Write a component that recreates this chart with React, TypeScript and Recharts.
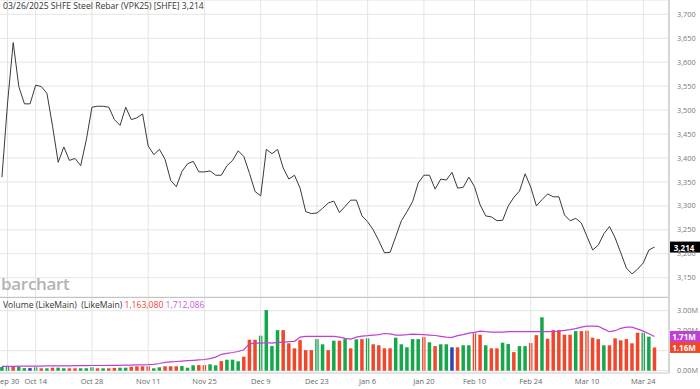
import React from 'react';
import {
  ComposedChart,
  LineChart,
  Line,
  Bar,
  Cell,
  XAxis,
  YAxis,
  CartesianGrid,
  ReferenceLine,
} from 'recharts';

// trading-day index ticks and labels
const tickIndex = [1, 6, 16, 26, 36, 46, 56, 65, 75, 84, 94, 104, 114];
const tickLabels = ['Sep 30', 'Oct 14', 'Oct 28', 'Nov 11', 'Nov 25', 'Dec 9', 'Dec 23', 'Jan 6', 'Jan 20', 'Feb 10', 'Feb 24', 'Mar 10', 'Mar 24'];

const priceTicks = [3150, 3200, 3250, 3300, 3350, 3400, 3450, 3500, 3550, 3600, 3650, 3700];
const volumeTicks = [0, 1, 2, 3];

// daily closes, Sep 27 2024 .. Mar 26 2025
const closes = [
  3360, 3515, 3641, 3549, 3513, 3513, 3552, 3549, 3535, 3466,
  3391, 3423, 3395, 3399, 3384, 3438, 3506, 3508, 3508, 3506,
  3480, 3468, 3506, 3480, 3484, 3492, 3425, 3407, 3418, 3397,
  3353, 3340, 3372, 3388, 3393, 3371, 3371, 3373, 3364, 3364,
  3384, 3395, 3415, 3403, 3368, 3330, 3321, 3418, 3409, 3418,
  3379, 3356, 3364, 3337, 3288, 3284, 3285, 3295, 3306, 3310,
  3286, 3299, 3312, 3312, 3279, 3267, 3250, 3227, 3202, 3203,
  3236, 3269, 3288, 3309, 3348, 3364, 3364, 3335, 3356, 3354,
  3370, 3337, 3339, 3360, 3340, 3302, 3279, 3277, 3269, 3270,
  3300, 3318, 3331, 3367, 3339, 3300, 3313, 3325, 3319, 3319,
  3281, 3269, 3274, 3264, 3236, 3208, 3218, 3242, 3257, 3233,
  3202, 3170, 3158, 3168, 3181, 3208, 3214,
];

// volume in millions
const volumes = [
  0.18, 0.2, 0.2, 0.2, 0.13, 0.13, 0.17, 0.12, 0.12, 0.15,
  0.15, 0.12, 0.12, 0.12, 0.12, 0.12, 0.17, 0.12, 0.12, 0.12,
  0.14, 0.15, 0.15, 0.2, 0.22, 0.22, 0.22, 0.12, 0.17, 0.22,
  0.22, 0.22, 0.23, 0.15, 0.27, 0.28, 0.28, 0.32, 0.27, 0.48,
  0.55, 0.55, 0.47, 0.7, 1.55, 1.55, 1.75, 3.03, 1.23, 2.03,
  2.03, 1.37, 1.12, 1.53, 1.03, 1.03, 1.58, 1.32, 1.03, 1.5,
  1.5, 1.58, 1.12, 1.57, 1.58, 1.62, 1.32, 1.27, 1.12, 1.12,
  1.65, 1.32, 1.17, 1.58, 1.58, 1.68, 1.42, 1.23, 1.32, 1.32,
  1.17, 1.17, 1.27, 1.27, 1.87, 1.8, 1.27, 1.12, 1.12, 1.4,
  1.33, 0.93, 1.23, 1.23, 1.38, 1.78, 2.67, 1.6, 2.03, 2.03,
  1.8, 1.8, 1.98, 1.98, 2.0, 1.65, 1.58, 1.27, 1.27, 1.62,
  1.52, 1.58, 1.37, 1.9, 1.9, 1.7, 1.163,
];

// g = up, r = down, b = unchanged
const volumeDir = [
  'g', 'g', 'r', 'g', 'g', 'b', 'g', 'r', 'g', 'r',
  'g', 'g', 'r', 'r', 'g', 'g', 'g', 'r', 'g', 'r',
  'r', 'g', 'g', 'r', 'r', 'r', 'r', 'g', 'g', 'r',
  'r', 'r', 'g', 'g', 'g', 'r', 'r', 'g', 'g', 'r',
  'g', 'g', 'g', 'r', 'r', 'r', 'g', 'g', 'g', 'g',
  'r', 'r', 'r', 'r', 'r', 'r', 'g', 'g', 'r', 'g',
  'r', 'g', 'r', 'g', 'r', 'g', 'r', 'r', 'r', 'r',
  'g', 'g', 'g', 'g', 'g', 'r', 'g', 'r', 'g', 'g',
  'b', 'r', 'g', 'g', 'r', 'r', 'g', 'r', 'r', 'g',
  'g', 'r', 'g', 'g', 'r', 'r', 'g', 'r', 'r', 'r',
  'r', 'r', 'g', 'r', 'r', 'r', 'r', 'g', 'r', 'r',
  'r', 'r', 'r', 'r', 'g', 'g', 'r',
];

// volume moving average, millions
const volumeMA = [
  0.22, 0.22, 0.22, 0.23, 0.23, 0.23, 0.23, 0.23, 0.24, 0.24,
  0.24, 0.24, 0.24, 0.25, 0.25, 0.25, 0.26, 0.26, 0.26, 0.27,
  0.27, 0.27, 0.28, 0.28, 0.29, 0.29, 0.3, 0.32, 0.36, 0.42,
  0.44, 0.46, 0.48, 0.5, 0.52, 0.54, 0.56, 0.6, 0.68, 0.82,
  0.87, 0.91, 0.96, 1.05, 1.35, 1.38, 1.38, 1.4, 1.38, 1.42,
  1.42, 1.45, 1.47, 1.68, 1.72, 1.72, 1.72, 1.72, 1.72, 1.72,
  1.68, 1.62, 1.58, 1.68, 1.73, 1.75, 1.78, 1.8, 1.86, 1.84,
  1.78, 1.78, 1.8, 1.83, 1.82, 1.8, 1.78, 1.76, 1.72, 1.68,
  1.67, 1.75, 1.8, 1.88, 1.92, 1.98, 1.95, 1.93, 1.93, 1.93,
  1.95, 1.95, 1.95, 1.95, 1.95, 1.95, 1.95, 1.95, 1.96, 1.98,
  2.02, 2.05, 2.1, 2.18, 2.23, 2.23, 2.22, 2.08, 1.95, 2.0,
  2.12, 2.18, 2.18, 2.08, 1.98, 1.85, 1.712,
];

const lastClose = 3214;
const lastVolume = 1.16308;
const lastVolumeMA = 1.712086;

const dirColor: Record<string, string> = { g: '#13a84a', r: '#f2462b', b: '#2b44b8' };

const data = closes.map((c, i) => ({
  i,
  close: c,
  vol: volumes[i],
  ma: volumeMA[i],
  dir: volumeDir[i],
}));

const X_DOMAIN: [number, number] = [-0.345, 118.57];
const FONT = '"Open Sans", "DejaVu Sans", sans-serif';
const GRID = '#e4e4e4';

const labelFor = (v: number) => {
  const k = tickIndex.indexOf(v);
  return k >= 0 ? tickLabels[k] : '';
};

const Tag = ({ viewBox, text, bg }: any) => {
  if (!viewBox) return null;
  const x = viewBox.x + viewBox.width;
  const y = viewBox.y;
  return (
    <g>
      <rect x={x} y={y - 5.5} width={31} height={11} fill={bg} />
      <text
        x={x + 15}
        y={y}
        textAnchor="middle"
        dominantBaseline="central"
        fill="#fff"
        fontSize={8}
        fontWeight={700}
        fontFamily={FONT}
      >
        {text}
      </text>
    </g>
  );
};

export default function App() {
  return (
    <div style={{ position: 'absolute', left: 0, top: 0, width: 700, height: 389, background: '#fff', fontFamily: FONT }}>
      <div style={{ position: 'absolute', left: 0, top: 0 }}>
        <LineChart width={700} height={297} data={data} margin={{ top: 0, right: 0, left: 0, bottom: 0 }}>
          <CartesianGrid vertical={false} stroke={GRID} strokeWidth={1} />
          <XAxis dataKey="i" type="number" domain={X_DOMAIN} ticks={tickIndex} hide allowDataOverflow />
          <YAxis
            orientation="right"
            width={31}
            domain={[3109.8, 3729.8]}
            ticks={priceTicks}
            allowDataOverflow
            tickLine={false}
            tickSize={6}
            tickMargin={2}
            axisLine={{ stroke: '#d6d6d6', strokeWidth: 2 }}
            tick={{ fontSize: 7.3, fill: '#777', fontFamily: FONT }}
            tickFormatter={(v: number) => v.toLocaleString('en-US')}
          />
          {tickIndex.map((t) => (
            <ReferenceLine key={t} x={t} stroke={GRID} strokeWidth={1} />
          ))}
          <Line
            type="linear"
            dataKey="close"
            stroke="#3a3a3a"
            strokeWidth={1}
            dot={false}
            activeDot={false}
            isAnimationActive={false}
          />
          <ReferenceLine y={lastClose} stroke="none" label={<Tag text="3,214" bg="#000" />} />
        </LineChart>
      </div>
      <div style={{ position: 'absolute', left: 0, top: 297 }}>
        <ComposedChart width={700} height={92} data={data} margin={{ top: 0, right: 0, left: 0, bottom: 0 }}>
          <CartesianGrid vertical={false} stroke={GRID} strokeWidth={1} />
          <XAxis
            dataKey="i"
            type="number"
            domain={X_DOMAIN}
            ticks={tickIndex}
            interval={0}
            allowDataOverflow
            height={16}
            tickLine={false}
            tickSize={4}
            tickMargin={2}
            axisLine={{ stroke: '#d6d6d6' }}
            tick={{ fontSize: 7.5, fill: '#666', fontFamily: FONT }}
            tickFormatter={labelFor}
          />
          <YAxis
            orientation="right"
            width={31}
            domain={[-0.115, 3.685]}
            ticks={volumeTicks}
            allowDataOverflow
            tickLine={false}
            tickSize={6}
            tickMargin={2}
            axisLine={{ stroke: '#d6d6d6', strokeWidth: 2 }}
            tick={{ fontSize: 7.3, fill: '#777', fontFamily: FONT }}
            tickFormatter={(v: number) => (v === 1 ? '' : v.toFixed(2) + 'M')}
          />
          {tickIndex.map((t) => (
            <ReferenceLine key={t} x={t} stroke={GRID} strokeWidth={1} />
          ))}
          <ReferenceLine y={3.685} stroke="#c4c4c4" strokeWidth={2} />
          <Bar dataKey="vol" barSize={3.5} isAnimationActive={false}>
            {data.map((d) => (
              <Cell key={d.i} fill={dirColor[d.dir]} />
            ))}
          </Bar>
          <Line
            type="linear"
            dataKey="ma"
            stroke="#c13fd8"
            strokeWidth={1.2}
            dot={false}
            activeDot={false}
            isAnimationActive={false}
          />
          <ReferenceLine y={lastVolumeMA} stroke="none" label={<Tag text="1.71M" bg="#c13fd8" />} />
          <ReferenceLine y={lastVolume} stroke="none" label={<Tag text="1.16M" bg="#f2462b" />} />
        </ComposedChart>
      </div>
      <div style={{ position: 'absolute', left: 3, top: 1, fontSize: 8.6, color: '#333', whiteSpace: 'nowrap', lineHeight: '11px' }}>
        03/26/2025 SHFE Steel Rebar (VPK25) [SHFE] 3,214
      </div>
      <div style={{ position: 'absolute', left: 1, top: 273, fontSize: 17, fontWeight: 600, color: '#b4b4b4', whiteSpace: 'nowrap', lineHeight: '22px', letterSpacing: -0.3 }}>
        barchart
      </div>
      <div style={{ position: 'absolute', left: 3, top: 300, fontSize: 8.6, color: '#333', whiteSpace: 'nowrap', lineHeight: '11px' }}>
        Volume (LikeMain)&nbsp; (LikeMain) <span style={{ color: '#f2462b' }}>1,163,080</span>{' '}
        <span style={{ color: '#c45ee0' }}>1,712,086</span>
      </div>
    </div>
  );
}
